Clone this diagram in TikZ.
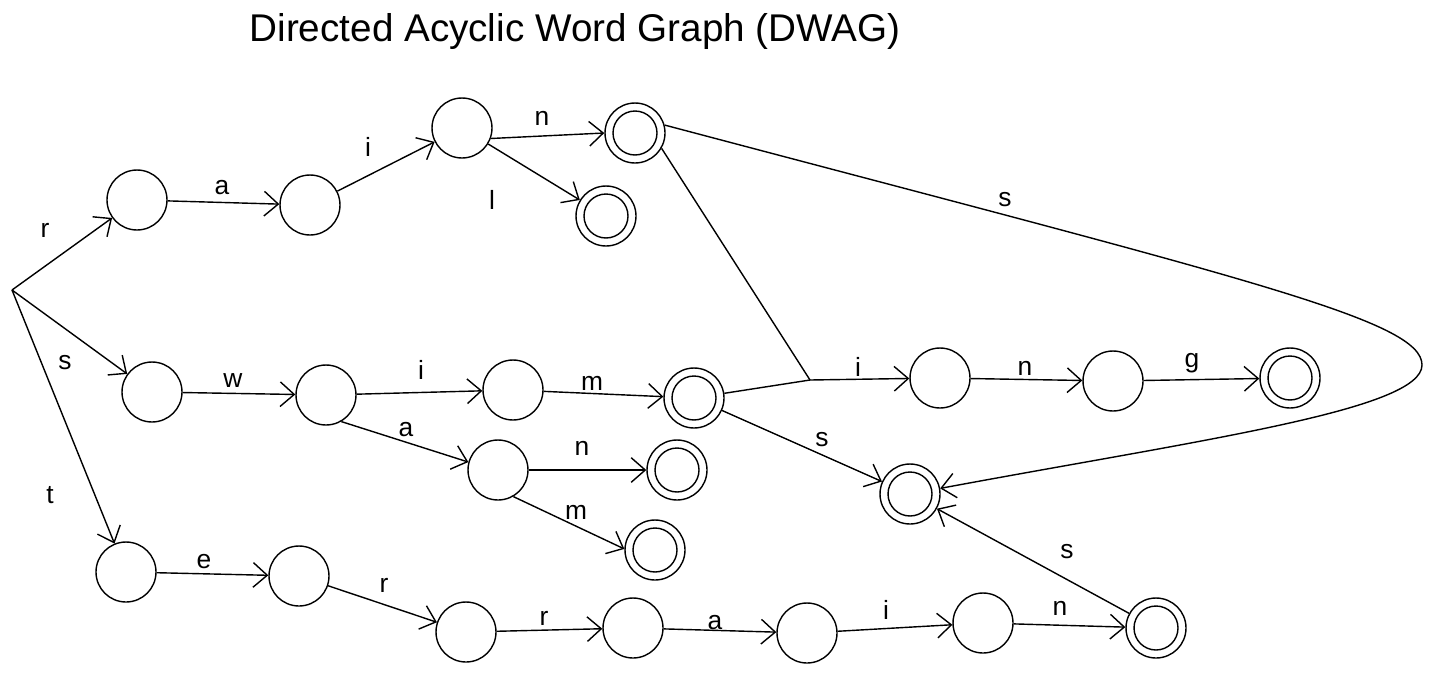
\documentclass[tikz,border=0pt]{standalone}
\usepackage{fontspec}
\setmainfont{Liberation Sans}
\usetikzlibrary{arrows.meta}
\begin{document}
\begin{tikzpicture}[x=0.02cm,y=-0.02cm,line width=0.8pt,
      st/.style={draw,circle,minimum size=1.2cm,inner sep=0pt},
      fin/.style={st,path picture={\draw (path picture bounding box.center) circle (0.44cm);}},
      ar/.style={-{Straight Barb[length=8pt,width=14pt]}},
      lb/.style={font=\fontsize{15}{15}\selectfont}]
    \useasboundingbox (0,0) rectangle (1432,673);
    \node (ttl) at (575,32) {\fontsize{22}{22}\selectfont Directed Acyclic Word Graph (DWAG)};
    \coordinate (rt) at (12,290);
    \coordinate (mrg) at (810,380);
    \coordinate (bnd) at (1422,365);
    \node[st]  (r)      at (137,200) {};
    \node[st]  (ra)     at (310,205) {};
    \node[st]  (rai)    at (462,128) {};
    \node[fin] (rain)   at (635,133) {};
    \node[fin] (rail)   at (606,216) {};
    \node[st]  (s)      at (152,392) {};
    \node[st]  (sw)     at (326,395) {};
    \node[st]  (swi)    at (513,390) {};
    \node[fin] (swim)   at (694,398) {};
    \node[st]  (swa)    at (498,470) {};
    \node[fin] (swan)   at (677,470) {};
    \node[fin] (swam)   at (655,550) {};
    \node[st]  (t)      at (126,572) {};
    \node[st]  (te)     at (299,576) {};
    \node[st]  (ter)    at (466,632) {};
    \node[st]  (terr)   at (633,628) {};
    \node[st]  (terra)  at (807,633) {};
    \node[st]  (terrai) at (983,623) {};
    \node[fin] (terrain) at (1156,628) {};
    \node[st]  (xi)     at (940,378) {};
    \node[st]  (xin)    at (1113,381) {};
    \node[fin] (xing)   at (1290,378) {};
    \node[fin] (xs)     at (910,494) {};
    \draw[ar] (rt) -- (r);
    \draw[ar] (rt) -- (s);
    \draw[ar] (rt) -- (t);
    \draw[ar] (r) -- (ra);
    \draw[ar] (ra) -- (rai);
    \draw[ar] (rai.-20) -- (rain.180);
    \draw[ar] (rai) -- (rail);
    \draw[ar] (s) -- (sw);
    \draw[ar] (sw) -- (swi);
    \draw[ar] (swi) -- (swim);
    \draw[ar] (sw.-60) -- (swa.165);
    \draw[ar] (swa) -- (swan);
    \draw[ar] (swa.-60) -- (swam.178);
    \draw[ar] (t) -- (te);
    \draw[ar] (te) -- (ter);
    \draw[ar] (ter) -- (terr);
    \draw[ar] (terr) -- (terra);
    \draw[ar] (terra) -- (terrai);
    \draw[ar] (terrai) -- (terrain);
    \draw (rain.-30) -- (mrg);
    \draw (swim) -- (mrg);
    \draw[ar] (mrg) -- (xi);
    \draw[ar] (xi) -- (xin);
    \draw[ar] (xin) -- (xing);
    \draw[ar] (swim) -- (xs);
    \draw[ar] (terrain) -- (xs);
    \draw[ar] (rain.15) .. controls (1250,280) and (1422,320) .. (bnd)
                        .. controls (1422,410) and (1200,440) .. (xs);
    \node[lb] (l1) at (45,230) {r};
    \node[lb] (l2) at (222,188) {a};
    \node[lb] (l3) at (368,147) {i};
    \node[lb] (l4) at (542,118) {n};
    \node[lb] (l5) at (492,200) {l};
    \node[lb] (l6) at (1005,200) {s};
    \node[lb] (l7) at (65,363) {s};
    \node[lb] (l8) at (233,381) {w};
    \node[lb] (l9) at (421,370) {i};
    \node[lb] (l10) at (592,383) {m};
    \node[lb] (l11) at (406,430) {a};
    \node[lb] (l12) at (582,448) {n};
    \node[lb] (l13) at (576,512) {m};
    \node[lb] (l14) at (50,495) {t};
    \node[lb] (l15) at (204,562) {e};
    \node[lb] (l16) at (384,585) {r};
    \node[lb] (l17) at (544,618) {r};
    \node[lb] (l18) at (715,623) {a};
    \node[lb] (l19) at (886,610) {i};
    \node[lb] (l20) at (1060,608) {n};
    \node[lb] (l21) at (1067,552) {s};
    \node[lb] (l22) at (822,440) {s};
    \node[lb] (l23) at (858,367) {i};
    \node[lb] (l24) at (1025,368) {n};
    \node[lb] (l25) at (1192,363) {g};
\end{tikzpicture}
\end{document}
